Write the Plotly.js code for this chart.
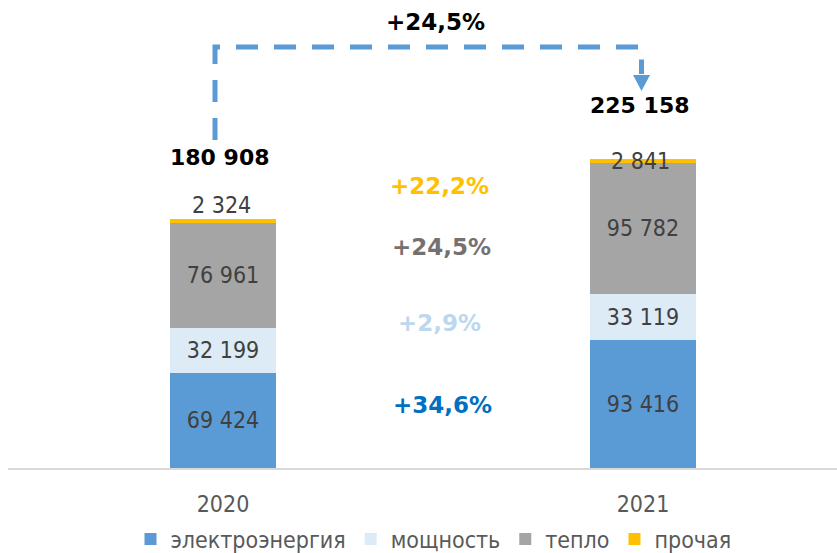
<!DOCTYPE html>
<html>
<head>
<meta charset="utf-8">
<script src="https://cdn.plot.ly/plotly-3.0.1.min.js"></script>
<style>html,body{margin:0;padding:0;background:#fff;}#chart{width:837px;height:553px;}</style>
</head>
<body>
<div id="chart"></div>
<script>
// ---- data ----
const years = ['2020', '2021'];
const seriesNames = ['электроэнергия', 'мощность', 'тепло', 'прочая'];
const electricity = [69424, 93416];
const capacity = [32199, 33119];
const heat = [76961, 95782];
const other = [2324, 2841];
const growthLabels = ['+34,6%', '+2,9%', '+24,5%', '+22,2%'];
const totalGrowthLabel = '+24,5%';

// ---- styling ----
const FONT = 'DejaVu Sans Condensed, DejaVu Sans, sans-serif';
const BFONT = 'DejaVu Sans, sans-serif';
const colors = ['#5B9BD5', '#DDEBF7', '#A5A5A5', '#FFC000'];
const W = 837, H = 553;
const M = {l: 8, r: 0, t: 10, b: 85};
const PW = W - M.l - M.r, PH = H - M.t - M.b;
const px = x => (x - M.l) / PW;           // pixel -> paper x
const py = y => (H - M.b - y) / PH;       // pixel -> paper y

const totals = years.map((_, i) => electricity[i] + capacity[i] + heat[i] + other[i]);
const fmt = v => String(v).replace(/\B(?=(\d{3})+(?!\d))/g, ' ');

const seriesData = [electricity, capacity, heat, other];
const traces = seriesData.map((vals, k) => ({
  type: 'bar',
  name: seriesNames[k],
  x: years,
  y: vals,
  width: 0.252,
  marker: {color: colors[k], line: {width: 0}},
  texttemplate: k < 3 ? '%{y:,}' : '',
  textposition: k < 3 ? 'inside' : 'none',
  insidetextanchor: 'middle',
  textfont: {family: FONT, size: 23, color: '#404040'},
  constraintext: 'none',
  hoverinfo: 'skip'
}));

const annotations = [];
// totals
const totalShift = [47, 39];
years.forEach((yr, i) => {
  annotations.push({x: i, y: totals[i], xref: 'x', yref: 'y', xanchor: 'center', yanchor: 'bottom',
    yshift: totalShift[i], xshift: -3, showarrow: false,
    text: '<b>' + fmt(totals[i]) + '</b>',
    font: {family: BFONT, size: 22, color: '#000000'}});
});
// "other" labels
const otherShift = [-1, -17];
years.forEach((yr, i) => {
  annotations.push({x: i, y: totals[i], xref: 'x', yref: 'y', xanchor: 'center', yanchor: 'bottom',
    yshift: otherShift[i], xshift: -2, showarrow: false,
    text: fmt(other[i]),
    font: {family: FONT, size: 23, color: '#404040'}});
});
// growth labels
const growthColors = ['#0070C0', '#BDD7EE', '#767171', '#FFC000'];
const growthPos = [[442, 405], [439, 323], [441, 247], [439, 186]];
growthLabels.forEach((t, k) => {
  annotations.push({x: px(growthPos[k][0]), y: py(growthPos[k][1]), xref: 'paper', yref: 'paper',
    xanchor: 'center', yanchor: 'middle', showarrow: false, text: '<b>' + t + '</b>',
    font: {family: BFONT, size: 23, color: growthColors[k]}});
});
annotations.push({x: px(435), y: py(22), xref: 'paper', yref: 'paper', xanchor: 'center', yanchor: 'middle',
  showarrow: false, text: '<b>' + totalGrowthLabel + '</b>', font: {family: BFONT, size: 23, color: '#000000'}});

// dashed arrow
const shapes = [
  {type: 'path', xref: 'paper', yref: 'paper',
   path: `M ${px(215)},${py(140)} L ${px(215)},${py(47)} L ${px(641.5)},${py(47)} L ${px(641.5)},${py(74)}`,
   line: {color: '#5B9BD5', width: 5, dash: '22px,16px'}, fillcolor: 'rgba(0,0,0,0)'},
  {type: 'path', xref: 'paper', yref: 'paper',
   path: `M ${px(633)},${py(75)} L ${px(650)},${py(75)} L ${px(641.5)},${py(91)} Z`,
   line: {width: 0}, fillcolor: '#5B9BD5'}
];

const layout = {
  width: W, height: H,
  margin: M,
  barmode: 'stack',
  separators: ', ',
  paper_bgcolor: '#ffffff', plot_bgcolor: '#ffffff',
  font: {family: FONT, size: 23, color: '#595959'},
  xaxis: {type: 'category', categoryorder: 'array', categoryarray: years,
    range: [-0.512, 1.462], showline: true, linecolor: '#D9D9D9', linewidth: 2,
    ticks: '', ticklabelstandoff: 14, tickfont: {family: FONT, size: 23, color: '#595959'},
    showgrid: false, zeroline: false, fixedrange: true},
  yaxis: {range: [0, 333300], visible: false, showgrid: false, zeroline: false, fixedrange: true},
  showlegend: true,
  legend: {orientation: 'h', xref: 'container', yref: 'container', x: 433.5 / W, xanchor: 'center',
    y: 14 / H, yanchor: 'middle', font: {family: FONT, size: 23, color: '#595959'},
    traceorder: 'normal', bgcolor: 'rgba(0,0,0,0)'},
  annotations: annotations,
  shapes: shapes
};

Plotly.newPlot('chart', traces, layout, {staticPlot: true, displayModeBar: false});
</script>
</body>
</html>
